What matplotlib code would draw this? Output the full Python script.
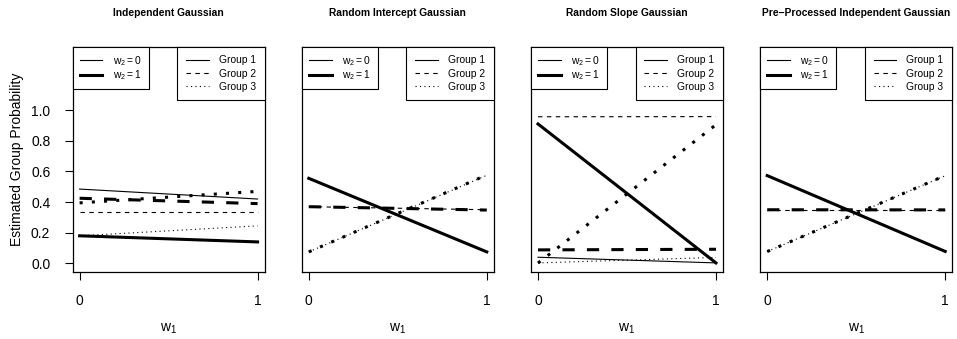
import matplotlib

matplotlib.use("Agg")

import matplotlib.pyplot as plt  # noqa: E402
from matplotlib.lines import Line2D  # noqa: E402

plt.rcParams["font.family"] = ["Liberation Sans", "DejaVu Sans"]
plt.rcParams["mathtext.default"] = "regular"

# ─── Data ────────────────────────────────────────────────────────────────────
# Each table: rows = Group 1..3, columns = estimated probability at w1 = 0, 1

W1 = [0, 1]

PANEL_TITLES = [
    "Independent Gaussian",
    "Random Intercept Gaussian",
    "Random Slope Gaussian",
    "Pre\u2212Processed Independent Gaussian",
]

indep_w2_0 = [[0.485, 0.42], [0.335, 0.335], [0.18, 0.245]]
indep_w2_1 = [[0.18, 0.14], [0.425, 0.39], [0.395, 0.47]]

rint_w2_0 = [[0.555, 0.075], [0.37, 0.35], [0.075, 0.575]]
rint_w2_1 = [[0.555, 0.075], [0.37, 0.348], [0.075, 0.577]]

rslope_w2_0 = [[0.04, 0.003], [0.957, 0.958], [0.003, 0.039]]
rslope_w2_1 = [[0.91, 0.003], [0.088, 0.092], [0.002, 0.905]]

pre_w2_0 = [[0.573, 0.078], [0.35, 0.35], [0.077, 0.572]]
pre_w2_1 = [[0.573, 0.078], [0.35, 0.349], [0.077, 0.573]]

PANEL_DATA = [
    (indep_w2_0, indep_w2_1),
    (rint_w2_0, rint_w2_1),
    (rslope_w2_0, rslope_w2_1),
    (pre_w2_0, pre_w2_1),
]

GROUP_LABELS = ["Group 1", "Group 2", "Group 3"]
W2_LABELS = [r"$w_2 = 0$", r"$w_2 = 1$"]
Y_TICKS = [0.0, 0.2, 0.4, 0.6, 0.8, 1.0]

# ─── Styles ──────────────────────────────────────────────────────────────────

GROUP_STYLES = ["-", (0, (4, 4)), (0, (1, 3))]
W2_WIDTHS = [0.8, 2.2]

FIG_W, FIG_H = 957, 339
PANEL_LEFT, PANEL_W, PANEL_GAP = 72.5, 192.2, 37.0
PANEL_TOP, PANEL_BOTTOM = 46.7, 271.7


def _legend_kwargs(spacing, pad):
    return dict(
        fontsize=7.4,
        frameon=True,
        fancybox=False,
        edgecolor="black",
        framealpha=1,
        borderaxespad=0,
        handlelength=2.2,
        handletextpad=1.0,
        borderpad=pad,
        labelspacing=spacing,
    )


def add_legends(ax):
    w2_handles = [Line2D([], [], color="black", lw=w) for w in W2_WIDTHS]
    leg1 = ax.legend(w2_handles, W2_LABELS, loc="upper left",
                     bbox_to_anchor=(0, 1), **_legend_kwargs(0.05, 0.7))
    leg1.get_frame().set_linewidth(0.8)
    ax.add_artist(leg1)

    group_handles = [
        Line2D([], [], color="black", lw=0.8, linestyle=s) for s in GROUP_STYLES
    ]
    leg2 = ax.legend(group_handles, GROUP_LABELS, loc="upper right",
                     bbox_to_anchor=(1, 1), **_legend_kwargs(0.3, 0.85))
    leg2.get_frame().set_linewidth(0.8)


fig = plt.figure(figsize=(FIG_W / 100, FIG_H / 100), dpi=100)

for i, (title, (w2_0, w2_1)) in enumerate(zip(PANEL_TITLES, PANEL_DATA)):
    left = PANEL_LEFT + i * (PANEL_W + PANEL_GAP)
    ax = fig.add_axes([
        left / FIG_W,
        1 - PANEL_BOTTOM / FIG_H,
        PANEL_W / FIG_W,
        (PANEL_BOTTOM - PANEL_TOP) / FIG_H,
    ])

    for g in range(3):
        for probs, lw in zip((w2_0, w2_1), W2_WIDTHS):
            ax.plot(W1, probs[g], color="black", lw=lw,
                    linestyle=GROUP_STYLES[g])

    ax.set_xlim(-0.04, 1.04)
    ax.set_ylim(-0.0544, 1.4144)
    ax.set_xticks(W1)
    ax.set_xticklabels([str(v) for v in W1])
    ax.tick_params(axis="both", direction="out", length=6, width=0.8,
                   labelsize=10, pad=10)

    if i == 0:
        ax.set_yticks(Y_TICKS)
        ax.set_yticklabels([f"{v:.1f}" for v in Y_TICKS])
        ax.set_ylabel("Estimated Group Probability", fontsize=10, labelpad=5)
    else:
        ax.set_yticks([])

    for spine in ax.spines.values():
        spine.set_linewidth(0.9)

    ax.set_title(title, fontsize=7.4, fontweight="bold", pad=22)
    ax.set_xlabel(r"$w_1$", fontsize=10, labelpad=10)

    add_legends(ax)

fig.savefig("out.png", dpi=100)
plt.close(fig)
